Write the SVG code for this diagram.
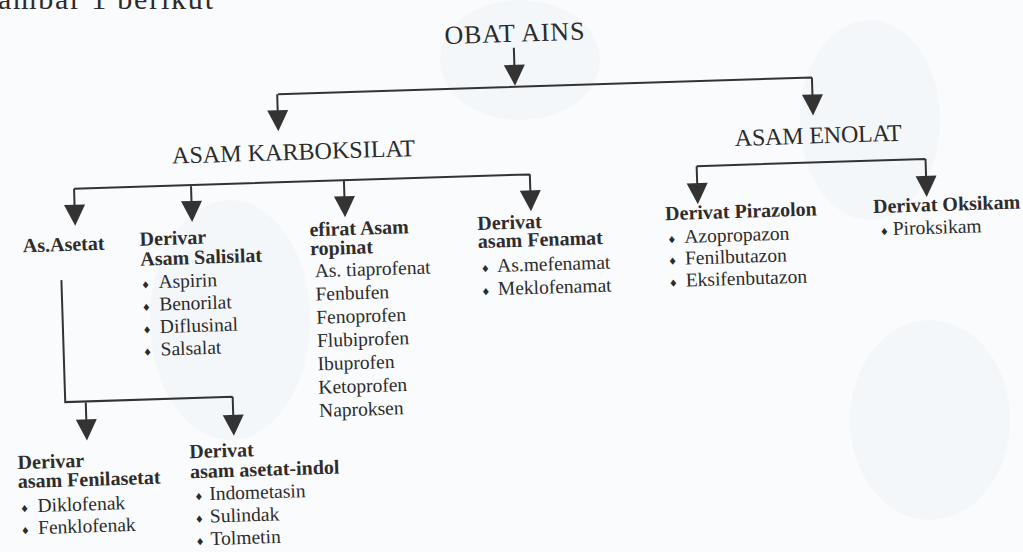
<svg xmlns="http://www.w3.org/2000/svg" width="1023" height="552" viewBox="0 0 1023 552">
<style>
text{font-family:"Liberation Serif","Times New Roman",serif;fill:#2b2b2b}
.t{font-size:24px}
.h{font-size:20px;font-weight:bold;fill:#302c2c}
.i{font-size:19.5px}
.b{font-family:"DejaVu Sans",sans-serif;font-size:10px}
.ln{stroke:#333;stroke-width:2;fill:none}
.ah{fill:#333}
.wm{fill:#eef1f8;opacity:0.45}
</style>
<defs>
<path id="tri" d="M-10.5,0 L10.5,0 L0,21 Z"/>
</defs>
<rect width="1023" height="552" fill="#fafbfc"/>
<g id="watermark">
<ellipse class="wm" cx="230" cy="320" rx="80" ry="120"/>
<ellipse class="wm" cx="520" cy="60" rx="80" ry="60"/>
<ellipse class="wm" cx="870" cy="120" rx="70" ry="100"/>
<ellipse class="wm" cx="930" cy="420" rx="80" ry="100"/>
</g>
<text x="-2" y="9" font-size="30" textLength="215">ambar 1 berikut</text>
<g transform="rotate(-1.8 512 276)">
<g id="connectors">
<path class="ln" d="M521,48 V66 M284,87 H818 M283,87 V104 M818,87 V105 M77,175 H533 M77,175 V192 M194,175 V192 M347,175 V192 M533,175 V192 M700,172 H929 M700,172 V190 M929,172 V190 M61.5,266 V388 H229 M82,388 V407 M229,388 V407"/>
<use href="#tri" class="ah" x="521" y="65"/>
<use href="#tri" class="ah" x="283" y="103"/>
<use href="#tri" class="ah" x="818" y="104"/>
<use href="#tri" class="ah" x="77" y="191"/>
<use href="#tri" class="ah" x="194" y="191"/>
<use href="#tri" class="ah" x="347" y="191"/>
<use href="#tri" class="ah" x="533" y="191"/>
<use href="#tri" class="ah" x="700" y="189"/>
<use href="#tri" class="ah" x="929" y="189"/>
<use href="#tri" class="ah" x="82" y="406"/>
<use href="#tri" class="ah" x="229" y="406"/>
</g>
<g id="obat-ains"><text x="452" y="42" font-size="26" textLength="140">OBAT AINS</text></g>
<g id="asam-karboksilat"><text class="t" x="176" y="153" textLength="243">ASAM KARBOKSILAT</text></g>
<g id="asam-enolat"><text class="t" x="739" y="153" textLength="167">ASAM ENOLAT</text></g>
<g id="as-asetat"><text class="h" x="24" y="237">As.Asetat</text></g>
<g id="salisilat">
<text class="h" x="141" y="234">Derivar</text>
<text class="h" x="141" y="254">Asam Salisilat</text>
<text class="b" x="141" y="277">♦</text><text class="i" x="158.5" y="277">Aspirin</text>
<text class="b" x="141" y="299.5">♦</text><text class="i" x="158.5" y="299.5">Benorilat</text>
<text class="b" x="141" y="322">♦</text><text class="i" x="158.5" y="322">Diflusinal</text>
<text class="b" x="141" y="344.5">♦</text><text class="i" x="158.5" y="344.5">Salsalat</text>
</g>
<g id="propionat">
<text class="h" x="311" y="230">efirat Asam</text>
<text class="h" x="311" y="249">ropinat</text>
<text class="i" x="315" y="271">As. tiaprofenat</text>
<text class="i" x="315" y="294.3">Fenbufen</text>
<text class="i" x="315" y="317.6">Fenoprofen</text>
<text class="i" x="315" y="340.9">Flubiprofen</text>
<text class="i" x="315" y="364.2">Ibuprofen</text>
<text class="i" x="315" y="387.5">Ketoprofen</text>
<text class="i" x="315" y="410.8">Naproksen</text>
</g>
<g id="fenamat">
<text class="h" x="479" y="229">Derivat</text>
<text class="h" x="479" y="247">asam Fenamat</text>
<text class="b" x="481" y="271.6">♦</text><text class="i" x="497.5" y="271.6">As.mefenamat</text>
<text class="b" x="481" y="294.6">♦</text><text class="i" x="497.5" y="294.6">Meklofenamat</text>
</g>
<g id="pirazolon">
<text class="h" x="667" y="225">Derivat Pirazolon</text>
<text class="b" x="668.5" y="248.4">♦</text><text class="i" x="685.5" y="248.4">Azopropazon</text>
<text class="b" x="668.5" y="270">♦</text><text class="i" x="685.5" y="270">Fenilbutazon</text>
<text class="b" x="668.5" y="292">♦</text><text class="i" x="685.5" y="292">Eksifenbutazon</text>
</g>
<g id="oksikam">
<text class="h" x="875" y="224.5">Derivat Oksikam</text>
<text class="b" x="881" y="247">♦</text><text class="i" x="894" y="247">Piroksikam</text>
</g>
<g id="fenilasetat">
<text class="h" x="12" y="453.5">Derivar</text>
<text class="h" x="11.5" y="472.5">asam Fenilasetat</text>
<text class="b" x="13" y="497">♦</text><text class="i" x="30.5" y="497">Diklofenak</text>
<text class="b" x="13" y="519">♦</text><text class="i" x="30.5" y="519">Fenklofenak</text>
</g>
<g id="asetat-indol">
<text class="h" x="184" y="448">Derivat</text>
<text class="h" x="184" y="468">asam asetat-indol</text>
<text class="b" x="187.5" y="490.5">♦</text><text class="i" x="202.5" y="490.5">Indometasin</text>
<text class="b" x="187.5" y="513">♦</text><text class="i" x="202.5" y="513">Sulindak</text>
<text class="b" x="187.5" y="535.5">♦</text><text class="i" x="202.5" y="535.5">Tolmetin</text>
</g>
</g>
</svg>
